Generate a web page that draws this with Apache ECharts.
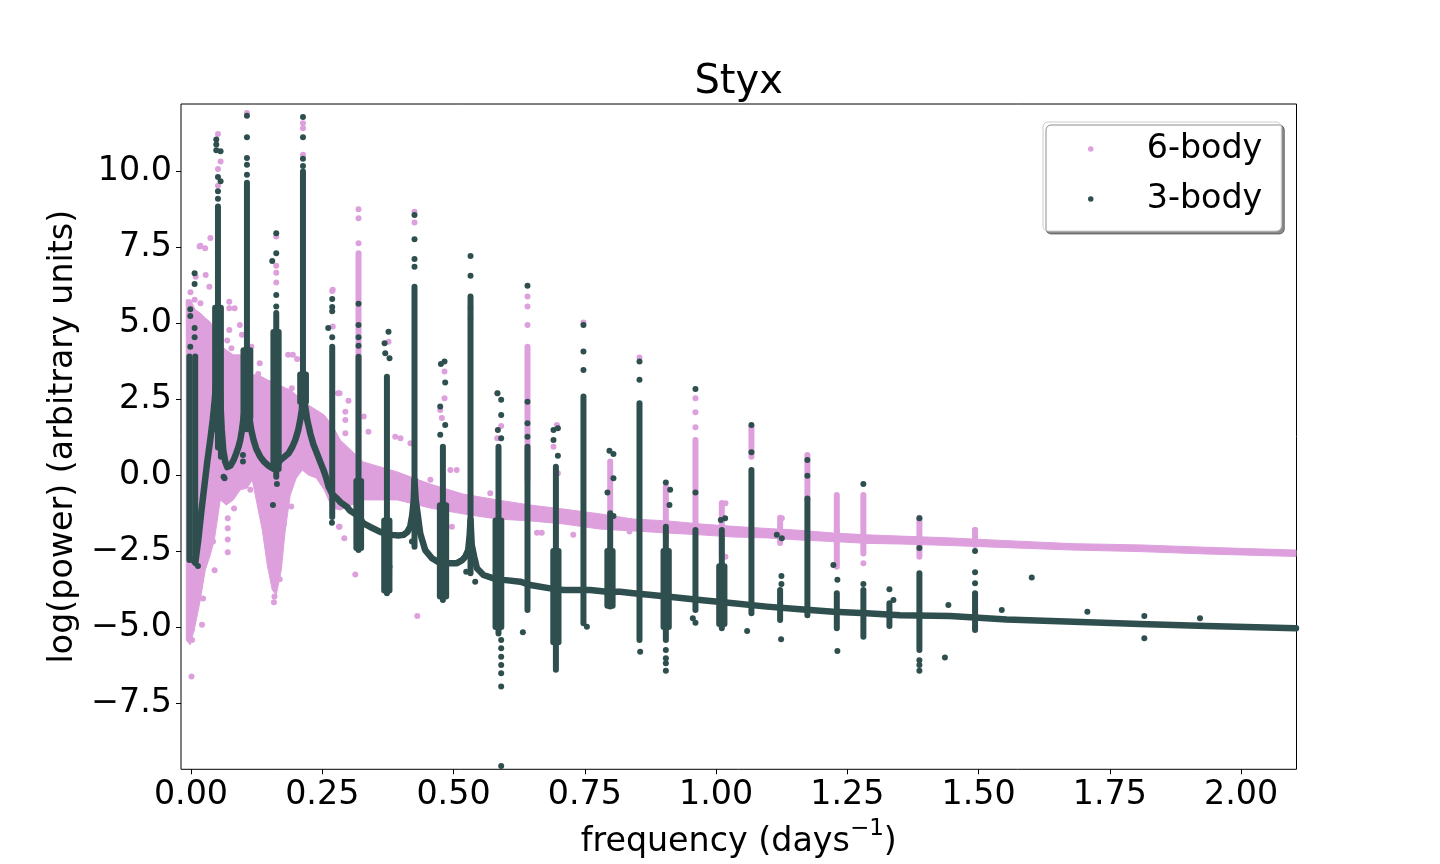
<!DOCTYPE html>
<html>
<head>
<meta charset="utf-8">
<script src="https://cdn.jsdelivr.net/npm/echarts@6/dist/echarts.min.js"></script>
<style>html,body{margin:0;padding:0;background:#fff}#chart{width:1440px;height:864px}</style>
</head>
<body>
<div id="chart"></div>
<script>
// ---- data ----
const xTicks = [0, 0.25, 0.5, 0.75, 1.0, 1.25, 1.5, 1.75, 2.0];
const yTicks = [-7.5, -5, -2.5, 0, 2.5, 5, 7.5, 10];

// 6-body: dense cloud / band envelope [freq, low, high]
const sixBodyBand = [
  [-0.009,-5.43,5.76],[-0.0013,-5.59,5.76],[0.0082,-4.93,5.43],[0.0177,-4.11,5.33],
  [0.0272,-3.13,5.16],[0.0367,-2.63,5.03],[0.0444,-2.14,4.77],[0.0558,-0.82,4.28],
  [0.0672,-0.99,4.11],[0.0805,-0.82,3.95],[0.0939,-0.49,3.95],[0.1072,-0.43,3.78],
  [0.1167,-0.16,3.29],[0.1243,-0.82,3.29],[0.1358,-1.81,3.22],[0.1453,-2.96,3.13],
  [0.1548,-3.78,3.06],[0.1624,-3.95,2.99],[0.1719,-3.13,2.93],[0.1796,-1.81,2.86],
  [0.1891,-0.66,2.80],[0.2005,-0.10,2.63],[0.2119,0.16,2.47],[0.2234,0.00,2.30],
  [0.2386,-0.10,2.14],[0.2538,-0.49,1.97],[0.2690,-1.09,1.64],[0.2843,-1.15,1.15],
  [0.3281,-0.82,0.43],[0.3928,-0.82,0.10],[0.4556,-1.09,-0.30],[0.5185,-1.28,-0.63],
  [0.5832,-1.45,-0.82],[0.6460,-1.51,-0.99],[0.7088,-1.61,-1.12],[0.7793,-1.78,-1.28],
  [0.8422,-1.84,-1.45],[0.9069,-1.91,-1.51],[0.9697,-1.97,-1.61],[1.0325,-2.04,-1.69],
  [1.0973,-2.07,-1.76],[1.1601,-2.14,-1.82],[1.2229,-2.19,-1.91],[1.2877,-2.25,-1.97],
  [1.3505,-2.27,-2.01],[1.4457,-2.32,-2.07],[1.5543,-2.39,-2.16],[1.6799,-2.47,-2.26],
  [1.8075,-2.52,-2.30],[1.9351,-2.60,-2.38],[2.1045,-2.68,-2.47]
];
// 6-body: dense vertical streaks at the harmonics [freq, low, high]
const sixBodyColumns = [
  [0.3191,0.50,7.29],[0.6409,-0.16,4.22],[0.7984,-1.37,0.44],[0.9044,-2.10,-0.38],
  [0.9608,-1.92,1.15],[1.0110,-2.69,-0.92],[1.0674,0.60,1.59],[1.1220,-2.24,-1.41],
  [1.1740,-0.82,0.66],[1.2300,-3.02,-0.66],[1.2806,-2.58,-0.66],[1.3873,-2.69,-1.41],
  [1.4933,-2.30,-1.81]
];
// 6-body: isolated points [freq, log power]
const sixBodyDots = [
  [0.018,7.54],[0.027,7.46],[0.037,7.79],[-0.001,6.01],[0.009,6.52],[0.028,6.58],[-0.003,5.67],
  [0.007,5.76],[0.018,5.65],[0.035,6.19],[0.073,5.70],[0.083,5.48],[0.073,5.48],[0.093,4.93],
  [0.073,4.77],[0.069,4.42],[0.077,4.17],[0.097,4.61],[0.131,3.67],[0.128,3.32],[0.140,2.96],
  [0.150,3.02],[0.172,2.69],[0.185,3.95],[0.194,3.95],[0.202,3.81],[0.185,2.69],[0.192,2.85],
  [0.280,2.69],[0.115,4.22],[0.0164,7.51],
  [0.001,-6.63],[0.021,-4.93],[0.045,-3.13],[0.023,-4.06],[0.002,-5.43],[0.002,-5.08],
  [0.070,-1.42],[0.070,-1.75],[0.070,-2.12],[0.070,-2.54],[0.082,-1.10],[0.042,-2.19],
  [0.159,-4.00],[0.158,-4.19],[0.169,-3.43],[0.191,-1.04],[0.177,-1.61],[0.113,-0.49],
  [0.282,-1.70],[0.232,0.16],[0.232,1.97],[0.248,1.21],[0.256,1.15],
  [0.0514,11.21],[0.0564,10.31],[0.0514,10.06],[0.0514,9.51],[0.1066,11.90],
  [0.1624,7.84],[0.1624,6.88],[0.1624,6.65],[0.1624,6.33],
  [0.2133,11.57],[0.2133,11.40],[0.2133,10.53],[0.2690,6.05],
  [0.3191,8.74],[0.3191,8.44],[0.3191,7.62],
  [0.270,6.09],[0.270,4.88],[0.283,2.69],[0.300,2.44],[0.294,2.08],[0.294,1.81],[0.294,1.37],
  [0.338,1.42],[0.329,1.92],[0.389,1.26],[0.399,1.21],[0.418,1.04],[0.313,-3.27],[0.431,-4.64],
  [0.292,-2.08],[0.283,-1.70],[0.659,-1.90],[0.668,-1.90],[0.728,-1.97],[0.456,-0.16],
  [0.494,0.16],[0.506,0.16],[0.570,-0.60],[0.497,-1.70],
  [0.3762,4.38],[0.4257,8.66],[0.4257,8.30],
  [0.4829,3.40],[0.4829,2.52],[0.4779,1.87],[0.4747,2.14],
  [0.5324,5.48],[0.5324,5.15],[0.5832,2.69],[0.5908,1.61],[0.5832,1.21],
  [0.6409,5.87],[0.6409,5.54],[0.6409,4.93],[0.6969,1.64],[0.6904,0.93],[0.6988,0.06],
  [0.7475,5.01],[0.8542,3.86],[0.9608,2.52],[0.9608,2.06],[0.9608,1.57],
  [1.0179,-0.93],[1.1253,-1.42],[1.2300,-1.83],[0.8351,-1.86],[1.0179,-2.69],[1.2806,-2.90],
  [1.4933,-1.81]
];

// 3-body: continuous curve between the harmonics [freq, log power]
const threeBodyCurve = [
  [0.0044,-2.80],[0.0082,-2.89],[0.0139,-2.14],[0.0196,-1.22],[0.0253,-0.39],[0.0310,0.43],
  [0.0367,1.15],[0.0415,1.81],[0.0453,2.47],[0.0491,3.29],[0.0514,3.78],[0.0558,2.47],
  [0.0586,1.48],[0.0615,0.82],[0.0653,0.43],[0.0691,0.26],[0.0748,0.30],[0.0811,0.49],
  [0.0863,0.72],[0.0906,0.93],[0.0939,1.15],[0.0971,1.48],[0.0996,1.81],[0.1021,2.14],
  [0.1043,2.63],[0.1066,3.13],[0.1091,2.47],[0.1110,1.91],[0.1148,1.48],[0.1192,1.15],
  [0.1243,0.86],[0.1319,0.60],[0.1396,0.43],[0.1458,0.33],[0.1510,0.26],[0.1567,0.23],
  [0.1624,0.30],[0.1700,0.49],[0.1776,0.59],[0.1858,0.71],[0.1929,0.92],[0.1986,1.15],
  [0.2043,1.48],[0.2081,1.81],[0.2110,2.14],[0.2133,2.58],[0.2176,2.25],[0.2214,1.81],
  [0.2272,1.37],[0.2329,1.02],[0.2399,0.71],[0.2462,0.43],[0.2525,0.16],[0.2576,-0.10],
  [0.2620,-0.38],[0.2690,-0.63],[0.2780,-0.77],[0.2862,-0.92],[0.2970,-1.05],[0.3033,-1.18],
  [0.3161,-1.32],[0.3191,-1.38],[0.3286,-1.59],[0.3414,-1.71],[0.3604,-1.87],[0.3732,-1.94],
  [0.3827,-1.97],[0.3947,-1.99],[0.4048,-1.97],[0.4119,-1.88],[0.4176,-1.70],[0.4214,-1.32],
  [0.4243,-0.82],[0.4257,-0.16],[0.4280,-0.82],[0.4315,-1.26],[0.4366,-1.92],[0.4461,-2.47],
  [0.4589,-2.74],[0.4747,-2.90],[0.4874,-2.90],[0.5065,-2.90],[0.5166,-2.80],[0.5223,-2.69],
  [0.5280,-2.47],[0.5308,-1.97],[0.5324,-1.48],[0.5347,-2.30],[0.5394,-2.69],[0.5446,-3.07],
  [0.5571,-3.29],[0.5762,-3.40],[0.5952,-3.45],[0.6270,-3.51],[0.6460,-3.62],[0.6841,-3.73],
  [0.7094,-3.78],[0.7380,-3.78],[0.7603,-3.78],[0.7921,-3.84],[0.8174,-3.84],[0.8427,-3.89],
  [0.9063,-4.00],[0.9697,-4.11],[1.0331,-4.22],[1.0967,-4.33],[1.1601,-4.42],[1.2235,-4.50],
  [1.2871,-4.55],[1.3505,-4.61],[1.4457,-4.64],[1.5537,-4.75],[1.6805,-4.83],[1.8075,-4.90],
  [1.9345,-4.97],[2.1045,-5.04]
];
// 3-body: dense vertical streaks at the harmonics [freq, low, high]
const threeBodyColumns = [
  [-0.003,-2.80,3.90],[0.008,-2.80,3.90],
  [0.0514,0.90,8.83],[0.046,1.50,5.50],[0.057,0.60,5.50],
  [0.1066,1.50,9.61],[0.100,1.90,4.10],[0.113,1.90,4.10],
  [0.1624,-0.06,5.33],[0.157,0.20,4.70],[0.167,0.20,4.70],
  [0.2133,2.57,9.98],[0.208,2.40,3.30],[0.219,2.40,3.30],
  [0.2690,-1.38,4.22],
  [0.3191,-2.47,3.89],[0.315,-2.40,-0.20],[0.324,-2.40,-0.20],
  [0.3732,-3.89,3.23],[0.368,-3.80,-1.50],[0.378,-3.80,-1.50],
  [0.4257,-2.36,6.19],
  [0.4798,-4.11,0.93],[0.474,-4.00,-1.00],[0.486,-4.00,-1.00],
  [0.5324,-3.23,5.87],
  [0.5857,-5.21,0.93],[0.580,-5.00,-1.50],[0.591,-5.00,-1.50],
  [0.6409,-4.44,0.93],
  [0.6950,-6.41,0.27],[0.690,-5.50,-2.50],[0.700,-5.50,-2.50],
  [0.7475,-4.88,2.58],
  [0.7984,-4.33,-1.26],[0.793,-4.30,-2.50],[0.803,-4.30,-2.50],
  [0.8542,-5.43,2.36],
  [0.9044,-5.43,-1.70],[0.900,-5.00,-2.50],[0.910,-5.00,-2.50],
  [0.9608,-4.44,-1.81],
  [1.0110,-5.04,-1.81],[1.006,-4.90,-3.00],[1.016,-4.90,-3.00],
  [1.0674,-4.55,0.16],[1.1220,-4.77,-3.78],[1.1740,-4.61,-0.77],[1.2300,-5.04,-3.89],
  [1.2806,-5.32,-3.78],[1.3302,-4.97,-4.22],[1.3873,-5.76,-3.23],[1.4933,-5.10,-3.89]
];
// 3-body: isolated points [freq, log power]
const threeBodyDots = [
  [0.0069,6.63],[0.0069,6.28],[-0.0013,5.45],[-0.0013,5.23],[0.0069,4.83],[0.0069,4.53],[-0.0013,4.22],[0.0133,-2.99],
  [0.0482,11.03],[0.0482,10.87],[0.0482,10.68],[0.0564,10.65],[0.0514,9.80],[0.0564,9.66],[0.0514,9.33],[0.0514,9.08],
  [0.1066,11.81],[0.1066,11.11],[0.1066,10.42],[0.1066,10.20],[0.1066,9.87],
  [0.1624,7.95],[0.1624,7.29],[0.1548,7.04],[0.1624,5.92],[0.1624,5.54],
  [0.2133,11.77],[0.2133,11.11],[0.2133,10.40],[0.2133,10.16],
  [0.2690,5.79],[0.2690,5.52],[0.2690,5.38],[0.2614,4.83],[0.2690,4.53],[0.2685,-1.57],
  [0.0621,-0.06],[0.0640,-0.11],[0.0990,0.66],[0.0990,0.44],[0.1637,-0.30],[0.1561,-0.99],
  [0.3191,5.63],[0.3191,4.93],[0.3191,4.53],[0.3191,4.25],
  [0.3762,4.71],[0.3687,4.33],[0.3700,4.00],[0.3781,3.84],[0.3781,-3.02],[0.3762,-3.67],
  [0.4257,8.55],[0.4257,7.75],[0.4257,7.10],[0.4257,6.85],[0.4208,-2.19],
  [0.4760,3.65],[0.4829,3.73],[0.4842,3.04],[0.4747,2.25],[0.4842,1.64],[0.4747,1.32],
  [0.5324,7.20],[0.5324,6.55],[0.5242,-3.18],[0.5413,-3.51],
  [0.5838,2.69],[0.5908,2.47],[0.5908,1.97],[0.5845,1.48],[0.5908,1.21],[0.5908,-5.43],
  [0.5908,-5.70],[0.5908,-5.98],[0.5908,-6.25],[0.5908,-6.52],[0.5908,-6.96],[0.5908,-9.57],
  [0.6409,6.22],[0.6409,2.41],[0.6409,1.70],[0.6409,1.26],[0.6321,-5.17],
  [0.6904,1.48],[0.6988,1.54],[0.6904,1.15],[0.6988,0.63],
  [0.7475,4.93],[0.7475,4.06],[0.7475,3.45],[0.7540,-4.99],
  [0.7970,0.80],[0.8046,0.69],[0.8046,-0.11],[0.7932,-0.58],[0.8046,-1.35],
  [0.8542,3.73],[0.8542,3.13],[0.8555,-5.81],
  [0.9044,-0.25],[0.9126,-0.49],[0.9113,-0.99],[0.9044,-5.76],[0.9044,-6.03],[0.9044,-6.19],[0.9044,-6.44],
  [0.9608,2.83],[0.9608,-0.58],[0.9558,-4.71],[0.9608,-4.86],
  [1.0091,-1.48],[1.0173,-1.42],[1.0674,1.64],[1.0674,0.75],[1.0592,-5.13],
  [1.1158,-1.97],[1.1253,-2.08],[1.1245,-3.32],[1.1245,-3.59],[1.1239,-5.40],
  [1.1740,0.49],[1.1740,-0.03],[1.2235,-2.96],[1.2311,-3.45],[1.2311,-5.79],
  [1.2806,-0.30],[1.2806,-3.59],[1.3302,-3.76],[1.3378,-4.11],
  [1.3873,-1.42],[1.3873,-2.40],[1.3873,-6.09],[1.3873,-6.25],[1.3873,-6.44],
  [1.4425,-4.28],[1.4359,-6.00],[1.4933,-2.50],[1.4933,-3.20],[1.4933,-3.56],
  [1.6013,-3.37],[1.5442,-4.44],[1.7072,-4.50],[1.8157,-4.64],[1.8157,-5.37],[1.9217,-4.71]
];

// ---- styling ----
const PINK = '#DDA0DD';
const DARK = '#2F4F4F';
const FONT = 'DejaVu Sans';
const DOT = 6;

function bandRender(color) {
  return function (params, api) {
    if (params.dataIndexInside !== 0) return null;
    const n = params.dataInsideLength;
    const pts = [];
    for (let i = 0; i < n; i++) pts.push(api.coord([api.value(0, i), api.value(2, i)]));
    for (let i = n - 1; i >= 0; i--) pts.push(api.coord([api.value(0, i), api.value(1, i)]));
    return { type: 'polygon', shape: { points: pts }, style: { fill: color, stroke: color, lineWidth: 1 } };
  };
}
function columnRender(color) {
  return function (params, api) {
    const top = api.coord([api.value(0), api.value(2)]);
    const bot = api.coord([api.value(0), api.value(1)]);
    return {
      type: 'rect',
      shape: { x: top[0] - DOT / 2, y: top[1] - DOT / 2, width: DOT, height: bot[1] - top[1] + DOT, r: DOT / 2 },
      style: { fill: color }
    };
  };
}

const chart = echarts.init(document.getElementById('chart'), null, { renderer: 'canvas' });
chart.setOption({
  animation: false,
  backgroundColor: '#fff',
  title: {
    text: 'Styx', left: 738.6, top: 63, padding: 0, textAlign: 'center',
    textStyle: { fontFamily: FONT, fontSize: 40, fontWeight: 'normal', color: '#000' }
  },
  legend: {
    data: [{ name: '6-body', icon: 'circle' }, { name: '3-body', icon: 'circle' }],
    orient: 'vertical', left: 1043, top: 122, z: 20,
    selectedMode: false,
    padding: [10, 19, 15, 45],
    itemWidth: 14, itemHeight: 5.5, itemGap: 16,
    textStyle: { fontFamily: FONT, fontSize: 33.3, color: '#000', lineHeight: 34, padding: [0, 0, 0, 44] },
    backgroundColor: '#fff', borderColor: '#cccccc', borderWidth: 1, borderRadius: 5,
    shadowColor: 'rgba(0,0,0,0.45)', shadowBlur: 0, shadowOffsetX: 3, shadowOffsetY: 3
  },
  grid: {
    left: 181, right: 143.5, top: 104, bottom: 94.7,
    show: true, borderColor: '#000', borderWidth: 1, backgroundColor: 'transparent',
    containLabel: false, outerBoundsMode: 'none'
  },
  xAxis: {
    type: 'value', min: -0.019, max: 2.1055,
    name: 'frequency (days{sup|\u22121})', nameLocation: 'middle', nameGap: 42,
    nameTextStyle: {
      fontFamily: FONT, fontSize: 33.3, color: '#000', lineHeight: 50,
      rich: { sup: { fontFamily: FONT, fontSize: 23, lineHeight: 23, verticalAlign: 'top', color: '#000' } }
    },
    splitLine: { show: false },
    axisLine: { show: false, onZero: false },
    axisTick: { show: true, length: 5, lineStyle: { color: '#000', width: 1 }, customValues: xTicks },
    axisLabel: {
      customValues: xTicks, margin: 10, fontFamily: FONT, fontSize: 33.3, color: '#000',
      formatter: v => v.toFixed(2)
    }
  },
  yAxis: {
    type: 'value', min: -9.68, max: 12.2,
    name: 'log(power) (arbitrary units)', nameLocation: 'middle', nameGap: 98, nameRotate: 90,
    nameTextStyle: { fontFamily: FONT, fontSize: 33.3, color: '#000' },
    splitLine: { show: false },
    axisLine: { show: false, onZero: false },
    axisTick: { show: true, length: 5, lineStyle: { color: '#000', width: 1 }, customValues: yTicks },
    axisLabel: {
      customValues: yTicks, margin: 9, fontFamily: FONT, fontSize: 33.3, color: '#000',
      formatter: v => v.toFixed(1).replace('-', '\u2212')
    }
  },
  series: [
    { name: '6-body band', type: 'custom', data: sixBodyBand, renderItem: bandRender(PINK),
      encode: { x: 0, y: [1, 2] }, clip: true, silent: true, z: 2 },
    { name: '6-body columns', type: 'custom', data: sixBodyColumns, renderItem: columnRender(PINK),
      encode: { x: 0, y: [1, 2] }, clip: true, silent: true, z: 3 },
    { name: '6-body', type: 'scatter', data: sixBodyDots, symbol: 'circle', symbolSize: DOT,
      itemStyle: { color: PINK, opacity: 1 }, clip: true, silent: true, z: 4 },
    { name: '3-body curve', type: 'line', data: threeBodyCurve, showSymbol: false, symbol: 'none',
      lineStyle: { color: DARK, width: 6.5, cap: 'round', join: 'round' }, clip: true, silent: true, z: 5 },
    { name: '3-body columns', type: 'custom', data: threeBodyColumns, renderItem: columnRender(DARK),
      encode: { x: 0, y: [1, 2] }, clip: true, silent: true, z: 6 },
    { name: '3-body', type: 'scatter', data: threeBodyDots, symbol: 'circle', symbolSize: DOT,
      itemStyle: { color: DARK, opacity: 1 }, clip: true, silent: true, z: 7 }
  ]
});
</script>
</body>
</html>
